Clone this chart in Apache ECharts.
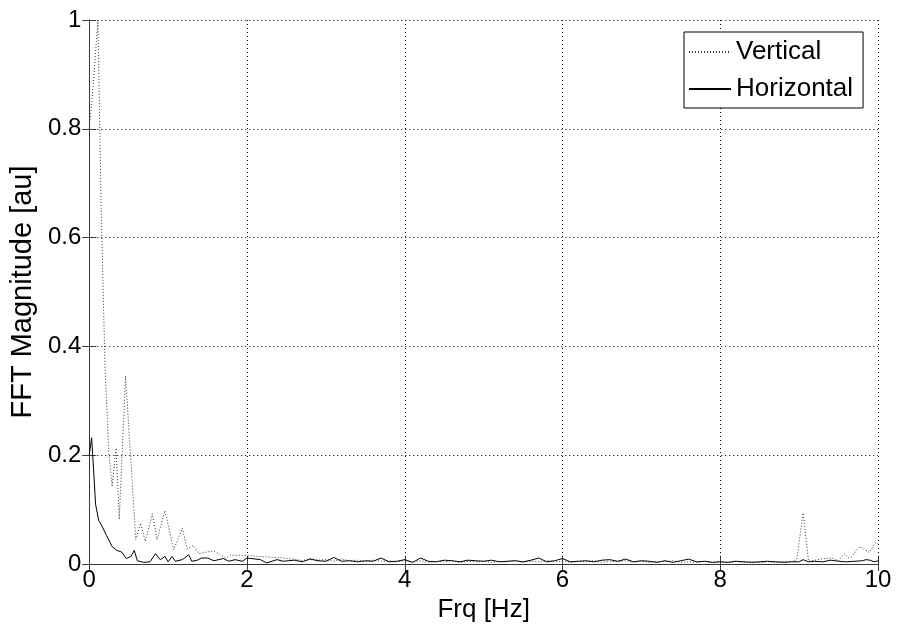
<!DOCTYPE html>
<html>
<head>
<meta charset="utf-8">
<script src="https://cdn.jsdelivr.net/npm/echarts@6/dist/echarts.min.js"></script>
<style>
  html, body { margin: 0; padding: 0; background: #fff; }
  #chart { width: 897px; height: 628px; }
</style>
</head>
<body>
<div id="chart"></div>
<script>
// FFT magnitude spectra of the two acceleration components
var xTicks = [0, 2, 4, 6, 8, 10];
var yTicks = [0, 0.2, 0.4, 0.6, 0.8, 1];

var vFreq = [0.00, 0.05, 0.11, 0.15, 0.20, 0.25, 0.29, 0.34, 0.38, 0.46, 0.59, 0.65, 0.71, 0.80, 0.86, 0.96,
  1.07, 1.18, 1.24, 1.32, 1.39, 1.45, 1.57, 1.64, 1.73, 1.79, 1.92, 2.00, 2.13, 2.25, 2.46,
  2.6, 2.7, 2.8, 2.9, 3.0, 3.1, 3.2, 3.3, 3.4, 3.5, 3.6, 3.7, 3.8, 3.9, 4.0, 4.1, 4.2, 4.3, 4.4, 4.5,
  4.6, 4.7, 4.8, 4.9, 5.0, 5.1, 5.2, 5.3, 5.4, 5.5, 5.6, 5.7, 5.8, 5.9, 6.0, 6.1, 6.2, 6.3, 6.4, 6.5,
  6.6, 6.7, 6.8, 6.9, 7.0, 7.1, 7.2, 7.3, 7.4, 7.5, 7.6, 7.7, 7.8, 7.9, 8.0, 8.1, 8.2, 8.3, 8.4, 8.5,
  8.6, 8.7, 8.8, 8.9, 8.97, 9.05, 9.12, 9.20, 9.31, 9.42, 9.50, 9.57, 9.63, 9.67, 9.72, 9.77, 9.83,
  9.89, 9.93, 9.96, 10.00];
var vMag = [0.80, 0.88, 1.00, 0.66, 0.36, 0.20, 0.143, 0.213, 0.082, 0.346, 0.045, 0.075, 0.042, 0.092, 0.045, 0.098,
  0.026, 0.066, 0.028, 0.034, 0.019, 0.021, 0.024, 0.019, 0.011, 0.016, 0.016, 0.016, 0.014, 0.013, 0.011,
  0.009, 0.006, 0.010, 0.007, 0.008, 0.005, 0.009, 0.006, 0.007, 0.004, 0.007, 0.005, 0.006, 0.004, 0.006, 0.004, 0.006, 0.003, 0.005, 0.004,
  0.006, 0.003, 0.005, 0.004, 0.005, 0.003, 0.005, 0.004, 0.006, 0.003, 0.005, 0.004, 0.006, 0.004, 0.005, 0.003, 0.005, 0.004, 0.006, 0.003,
  0.005, 0.004, 0.006, 0.004, 0.005, 0.003, 0.005, 0.004, 0.006, 0.003, 0.004, 0.003, 0.005, 0.003, 0.004, 0.003, 0.005, 0.003, 0.004, 0.003,
  0.004, 0.003, 0.005, 0.004, 0.008, 0.094, 0.005, 0.007, 0.010, 0.011, 0.006, 0.019, 0.011, 0.014, 0.024, 0.032, 0.027,
  0.021, 0.031, 0.039, 0.037];

var hFreq = [0.00, 0.03, 0.05, 0.08, 0.12, 0.16, 0.22, 0.29, 0.35, 0.41, 0.47, 0.53, 0.57, 0.61, 0.69, 0.77,
  0.84, 0.90, 0.96, 1.00, 1.05, 1.09, 1.18, 1.26, 1.30, 1.37, 1.42, 1.50, 1.58, 1.70, 1.77, 1.85, 1.94,
  2.00, 2.17, 2.25, 2.38, 2.46,
  2.6, 2.7, 2.8, 2.9, 3.0, 3.1, 3.2, 3.3, 3.4, 3.5, 3.6, 3.7, 3.8, 3.9, 4.0, 4.1, 4.2, 4.3, 4.4, 4.5,
  4.6, 4.7, 4.8, 4.9, 5.0, 5.1, 5.2, 5.3, 5.4, 5.5, 5.6, 5.7, 5.8, 5.9, 6.0, 6.1, 6.2, 6.3, 6.4, 6.5,
  6.6, 6.7, 6.8, 6.9, 7.0, 7.1, 7.2, 7.3, 7.4, 7.5, 7.6, 7.7, 7.8, 7.9, 8.0, 8.1, 8.2, 8.3, 8.4, 8.5,
  8.6, 8.7, 8.8, 8.9, 9.0, 9.05, 9.12, 9.2, 9.3, 9.4, 9.5, 9.6, 9.7, 9.8, 9.85, 9.9, 9.95, 10.0];
var hMag = [0.20, 0.232, 0.185, 0.11, 0.08, 0.07, 0.052, 0.032, 0.025, 0.022, 0.010, 0.014, 0.025, 0.006, 0.003, 0.004,
  0.019, 0.008, 0.014, 0.004, 0.014, 0.005, 0.008, 0.017, 0.005, 0.007, 0.011, 0.011, 0.006, 0.010, 0.005, 0.008, 0.005,
  0.011, 0.008, 0.002, 0.008, 0.005,
  0.007, 0.004, 0.009, 0.006, 0.005, 0.012, 0.005, 0.006, 0.004, 0.006, 0.005, 0.011, 0.004, 0.005, 0.008, 0.003, 0.011, 0.005, 0.004, 0.007,
  0.006, 0.004, 0.007, 0.006, 0.005, 0.007, 0.004, 0.005, 0.006, 0.004, 0.007, 0.011, 0.004, 0.006, 0.010, 0.004, 0.005, 0.006, 0.004, 0.007,
  0.008, 0.005, 0.009, 0.004, 0.006, 0.005, 0.003, 0.006, 0.003, 0.006, 0.009, 0.004, 0.005, 0.003, 0.004, 0.003, 0.005, 0.004, 0.003, 0.004,
  0.005, 0.004, 0.003, 0.004, 0.004, 0.008, 0.004, 0.005, 0.004, 0.007, 0.005, 0.004, 0.005, 0.006, 0.008, 0.007, 0.004, 0.006];

function pairs(xs, ys) {
  return xs.map(function (x, i) { return [x, ys[i]]; });
}

var FONT = 'Liberation Sans, Arial, sans-serif';
var AXIS_COLOR = '#3a3a3a';

var chart = echarts.init(document.getElementById('chart'), null, { renderer: 'canvas' });

function xAxisDef(pos, primary) {
  return {
    type: 'value', position: pos, min: xTicks[0], max: xTicks[xTicks.length - 1], interval: 2,
    axisLine: { show: true, lineStyle: { color: AXIS_COLOR, width: 1 } },
    axisTick: { show: true, inside: true, length: 7, lineStyle: { color: AXIS_COLOR } },
    axisLabel: { show: primary, color: '#000', fontFamily: FONT, fontSize: 24, margin: 4 },
    splitLine: { show: primary, lineStyle: { color: '#000', type: [1, 3], width: 1 } },
    name: primary ? 'Frq [Hz]' : '', nameLocation: 'middle', nameGap: 18,
    nameTextStyle: { color: '#000', fontFamily: FONT, fontSize: 26 }
  };
}
function yAxisDef(pos, primary) {
  return {
    type: 'value', position: pos, min: yTicks[0], max: yTicks[yTicks.length - 1], interval: 0.2,
    axisLine: { show: true, lineStyle: { color: AXIS_COLOR, width: 1 } },
    axisTick: { show: true, inside: true, length: 7, lineStyle: { color: AXIS_COLOR } },
    axisLabel: { show: primary, color: '#000', fontFamily: FONT, fontSize: 24, margin: 8,
      formatter: function (v) { return String(Math.round(v * 10) / 10); } },
    splitLine: { show: primary, lineStyle: { color: '#000', type: [1, 3], width: 1 } },
    name: primary ? 'FFT Magnitude [au]' : '', nameLocation: 'middle', nameGap: 50,
    nameTextStyle: { color: '#000', fontFamily: FONT, fontSize: 29 }
  };
}

chart.setOption({
  animation: false,
  backgroundColor: '#fff',
  grid: { left: 89, right: 19, top: 20, bottom: 64, containLabel: false },
  xAxis: [xAxisDef('bottom', true), xAxisDef('top', false)],
  yAxis: [yAxisDef('left', true), yAxisDef('right', false)],
  legend: {
    left: 684, top: 32, orient: 'vertical',
    data: ['Vertical', 'Horizontal'],
    itemWidth: 42, itemHeight: 14, itemGap: 9,
    padding: [6, 10, 5, 4],
    itemStyle: { opacity: 0 },
    borderColor: '#000', borderWidth: 1, backgroundColor: '#fff',
    textStyle: { color: '#000', fontFamily: FONT, fontSize: 26, lineHeight: 28 }
  },
  series: [
    {
      name: 'Vertical', type: 'line', xAxisIndex: 0, yAxisIndex: 0,
      data: pairs(vFreq, vMag), symbol: 'none', clip: true,
      lineStyle: { color: '#333', width: 1, type: [1, 2] },
      itemStyle: { color: '#333' }
    },
    {
      name: 'Horizontal', type: 'line', xAxisIndex: 0, yAxisIndex: 0,
      data: pairs(hFreq, hMag), symbol: 'none', clip: true,
      lineStyle: { color: '#000', width: 1, type: 'solid' },
      itemStyle: { color: '#000' }
    }
  ]
});
</script>
</body>
</html>
